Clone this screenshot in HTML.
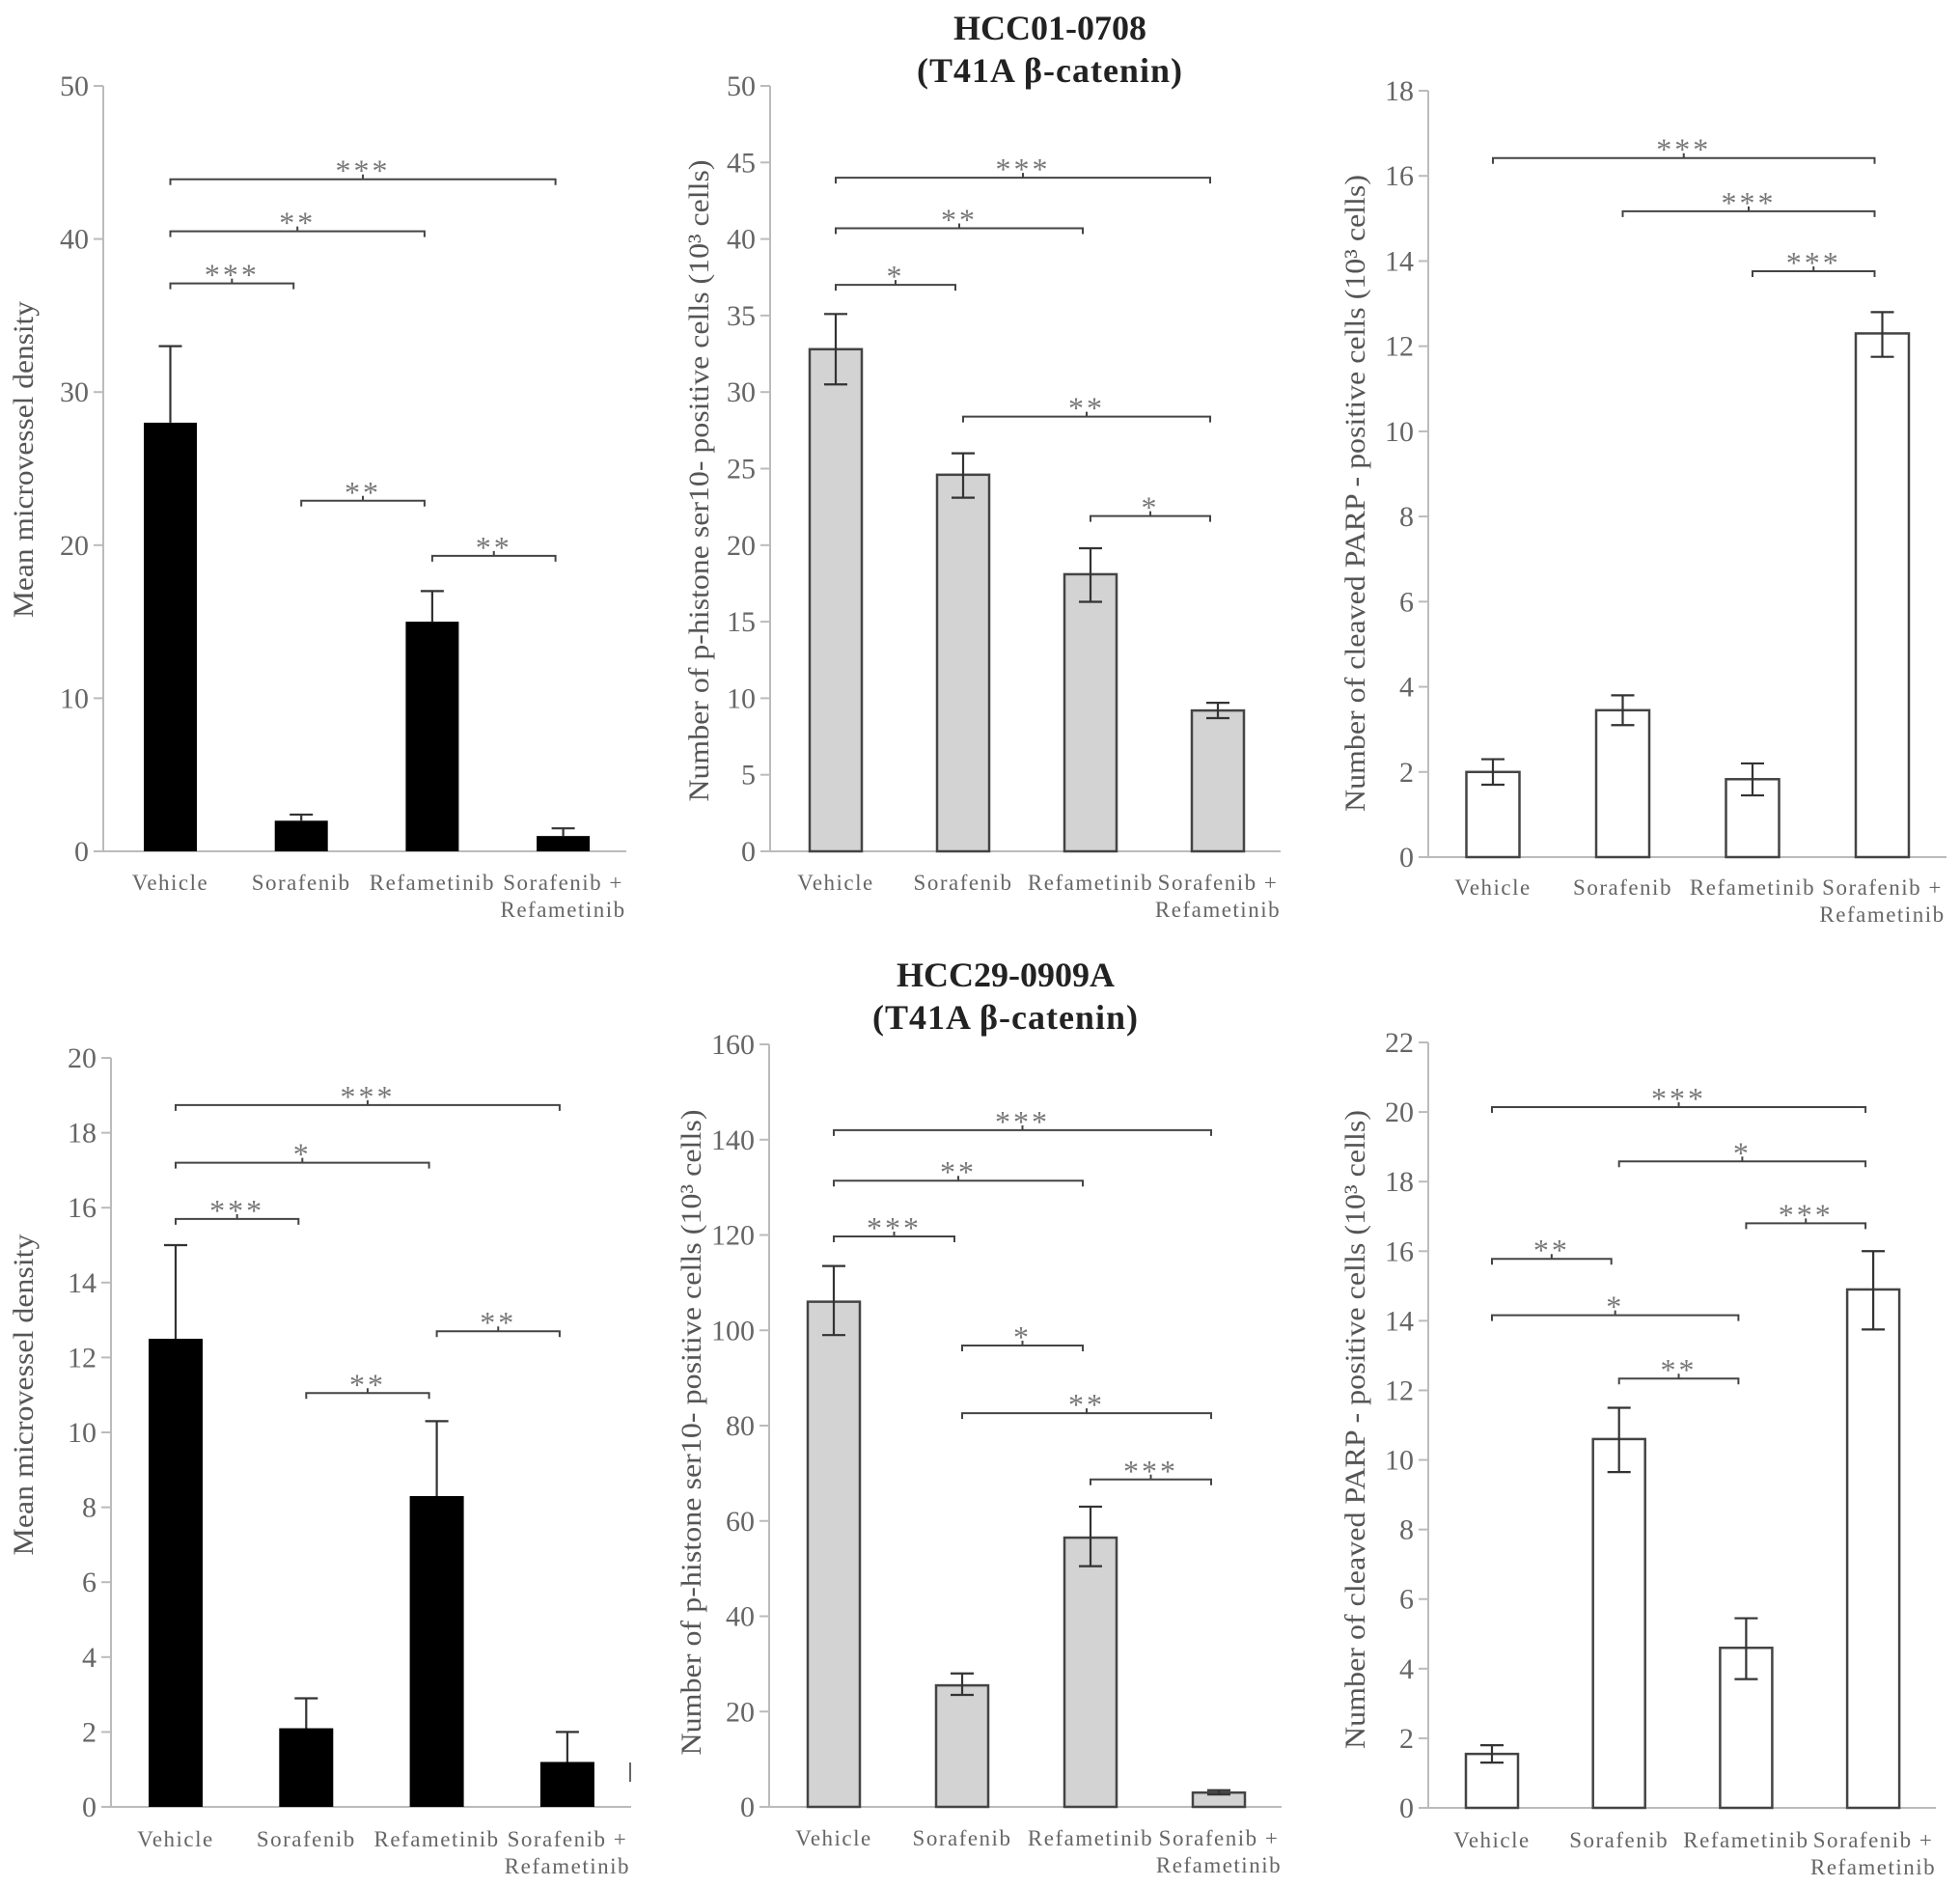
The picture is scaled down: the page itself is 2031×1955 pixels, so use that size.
<!DOCTYPE html>
<html><head><meta charset="utf-8"><style>
html,body{margin:0;padding:0;background:#fff;}
svg{display:block;}
text{font-family:"Liberation Serif",serif;}
</style></head><body>
<svg id="fig" width="2031" height="1955" viewBox="0 0 2031 1955" xmlns="http://www.w3.org/2000/svg">
<text x="1088" y="41" text-anchor="middle" font-size="36" font-weight="bold" fill="#222">HCC01-0708</text>
<text x="1088" y="85" text-anchor="middle" font-size="36" font-weight="bold" fill="#222" letter-spacing="1">(T41A β-catenin)</text>
<text x="1042" y="1022" text-anchor="middle" font-size="36" font-weight="bold" fill="#222">HCC29-0909A</text>
<text x="1042" y="1066" text-anchor="middle" font-size="36" font-weight="bold" fill="#222" letter-spacing="1">(T41A β-catenin)</text>
<rect x="652" y="1826" width="2" height="20" fill="#666"/>
</svg>
<script>
const categories = ["Vehicle","Sorafenib","Refametinib","Sorafenib +|Refametinib"];
// Chart 1: top-left mean microvessel density
const c1Values = [28, 2, 15, 1];
const c1ErrHi = [33, 2.4, 17, 1.5];
const c1ErrLo = [28, 2, 15, 1];
const c1Brackets = [[0,3,43.9,"***"],[0,2,40.5,"**"],[0,1,37.1,"***"],[1,2,22.9,"**"],[2,3,19.3,"**"]];
const c1Ticks = [0,10,20,30,40,50];
// Chart 2: top-middle p-histone
const c2Values = [32.8, 24.6, 18.1, 9.2];
const c2ErrHi = [35.1, 26, 19.8, 9.7];
const c2ErrLo = [30.5, 23.1, 16.3, 8.7];
const c2Brackets = [[0,3,44,"***"],[0,2,40.7,"**"],[0,1,37,"*"],[1,3,28.4,"**"],[2,3,21.9,"*"]];
const c2Ticks = [0,5,10,15,20,25,30,35,40,45,50];
// Chart 3: top-right cleaved PARP
const c3Values = [2.0, 3.45, 1.83, 12.3];
const c3ErrHi = [2.3, 3.8, 2.2, 12.8];
const c3ErrLo = [1.7, 3.1, 1.45, 11.75];
const c3Brackets = [[0,3,16.42,"***"],[1,3,15.17,"***"],[2,3,13.76,"***"]];
const c3Ticks = [0,2,4,6,8,10,12,14,16,18];
// Chart 4: bottom-left microvessel density
const c4Values = [12.5, 2.1, 8.3, 1.2];
const c4ErrHi = [15, 2.9, 10.3, 2.0];
const c4ErrLo = [12.5, 2.1, 8.3, 1.2];
const c4Brackets = [[0,3,18.74,"***"],[0,2,17.2,"*"],[0,1,15.7,"***"],[1,2,11.05,"**"],[2,3,12.7,"**"]];
const c4Ticks = [0,2,4,6,8,10,12,14,16,18,20];
// Chart 5: bottom-middle p-histone
const c5Values = [106, 25.5, 56.5, 3];
const c5ErrHi = [113.5, 28, 63, 3.5];
const c5ErrLo = [99, 23.5, 50.5, 2.6];
const c5Brackets = [[0,3,142,"***"],[0,2,131.4,"**"],[0,1,119.7,"***"],[1,2,96.8,"*"],[1,3,82.6,"**"],[2,3,68.7,"***"]];
const c5Ticks = [0,20,40,60,80,100,120,140,160];
// Chart 6: bottom-right cleaved PARP
const c6Values = [1.55, 10.6, 4.6, 14.9];
const c6ErrHi = [1.8, 11.5, 5.45, 16];
const c6ErrLo = [1.3, 9.65, 3.7, 13.75];
const c6Brackets = [[0,3,20.14,"***"],[1,3,18.58,"*"],[2,3,16.8,"***"],[0,1,15.78,"**"],[0,2,14.16,"*"],[1,2,12.34,"**"]];
const c6Ticks = [0,2,4,6,8,10,12,14,16,18,20,22];

const NS = "http://www.w3.org/2000/svg";
const svg = document.getElementById('fig');
function mk(tag, attrs, parent){ const e=document.createElementNS(NS,tag); for(const k in attrs) e.setAttribute(k,attrs[k]); (parent||svg).appendChild(e); return e; }

const layouts = [
 {id:"c1", vals:c1Values, hi:c1ErrHi, lo:c1ErrLo, br:c1Brackets, ticks:c1Ticks, ymax:50, ax:107, axEnd:649, y0:882, yTop:89, c0:176.5, step:135.7, bw:55, fill:"#000", stroke:"none", up:true, ylab:"Mean microvessel density", ylx:24, yly:476, yll:328, labY:922},
 {id:"c2", vals:c2Values, hi:c2ErrHi, lo:c2ErrLo, br:c2Brackets, ticks:c2Ticks, ymax:50, ax:798, axEnd:1327, y0:882, yTop:89, c0:866, step:132, bw:54, fill:"#d3d3d3", stroke:"#444", up:false, ylab:"Number of p-histone ser10- positive cells (10³ cells)", ylx:724, yly:498, yll:665, labY:922},
 {id:"c3", vals:c3Values, hi:c3ErrHi, lo:c3ErrLo, br:c3Brackets, ticks:c3Ticks, ymax:18, ax:1480, axEnd:2017, y0:888, yTop:94, c0:1547, step:134.5, bw:55, fill:"#fff", stroke:"#444", up:false, ylab:"Number of cleaved PARP - positive cells (10³ cells)", ylx:1404, yly:511, yll:660, labY:927},
 {id:"c4", vals:c4Values, hi:c4ErrHi, lo:c4ErrLo, br:c4Brackets, ticks:c4Ticks, ymax:20, ax:115, axEnd:654, y0:1872, yTop:1096, c0:182, step:135.3, bw:56, fill:"#000", stroke:"none", up:true, ylab:"Mean microvessel density", ylx:24, yly:1445, yll:333, labY:1913},
 {id:"c5", vals:c5Values, hi:c5ErrHi, lo:c5ErrLo, br:c5Brackets, ticks:c5Ticks, ymax:160, ax:797, axEnd:1328, y0:1872, yTop:1082, c0:864, step:133, bw:54, fill:"#d3d3d3", stroke:"#444", up:false, ylab:"Number of p-histone ser10- positive cells (10³ cells)", ylx:716, yly:1484, yll:669, labY:1912},
 {id:"c6", vals:c6Values, hi:c6ErrHi, lo:c6ErrLo, br:c6Brackets, ticks:c6Ticks, ymax:22, ax:1480, axEnd:2006, y0:1873, yTop:1080, c0:1546, step:131.7, bw:54, fill:"#fff", stroke:"#444", up:false, ylab:"Number of cleaved PARP - positive cells (10³ cells)", ylx:1404, yly:1481, yll:662, labY:1914}
];

layouts.forEach(L=>{
  const g = mk('g',{});
  
  
  const ys = v => L.y0 - (v/L.ymax)*(L.y0-L.yTop);
  const xs = i => L.c0 + i*L.step;
  const ya = mk('line',{x1:L.ax,y1:L.yTop,x2:L.ax,y2:L.y0,stroke:"#bbb","stroke-width":2},g);
  
  
  const xa = mk('line',{x1:L.ax,y1:L.y0,x2:L.axEnd,y2:L.y0,stroke:"#bbb","stroke-width":2},g);
  
  
  L.ticks.forEach(t=>{
    const y=ys(t);
    mk('line',{x1:L.ax-10,y1:y,x2:L.ax,y2:y,stroke:"#bbb","stroke-width":2},g);
    const tx = mk('text',{x:L.ax-15,y:y+10,"text-anchor":"end","font-size":30,fill:"#666"},g);
    
    
    tx.textContent = t;
  });
  const yl = mk('text',{x:0,y:0,"text-anchor":"middle","font-size":30,fill:"#555",textLength:L.yll,lengthAdjust:"spacingAndGlyphs",transform:`translate(${L.ylx+10},${L.yly}) rotate(-90)`},g);
  
  
  yl.textContent = L.ylab;
  L.vals.forEach((v,i)=>{
    const cx=xs(i), top=ys(v);
    const r = mk('rect',{x:cx-L.bw/2,y:top,width:L.bw,height:L.y0-top,fill:L.fill,stroke:L.stroke,"stroke-width":L.stroke==="none"?0:2.5},g);
    
    
    const yh=ys(L.hi[i]), yo=L.up?top:ys(L.lo[i]);
    const eb = mk('path',{d:`M${cx},${yo}V${yh}M${cx-12},${yh}H${cx+12}`+(L.up?"":`M${cx-12},${yo}H${cx+12}`),stroke:"#333","stroke-width":2.2,fill:"none"},g);
    
    
    const parts = categories[i].split('|');
    parts.forEach((p,k)=>{
      const t = mk('text',{x:cx,y:L.labY+k*28,"text-anchor":"middle","font-size":23,fill:"#666","letter-spacing":1.5},g);
      
      
      t.textContent = p;
    });
  });
  L.br.forEach(b=>{
    const x1=xs(b[0]), x2=xs(b[1])-8, y=ys(b[2]), m=(x1+x2)/2;
    const p = mk('path',{d:`M${x1},${y+6}V${y}H${x2}V${y+6}M${m},${y}V${y-5}`,stroke:"#444","stroke-width":2,fill:"none"},g);
    
    
    const s = mk('text',{x:m,y:y+2,"text-anchor":"middle","font-size":32,fill:"#777","letter-spacing":3},g);
    
    
    s.textContent = b[3];
  });
});
</script>
</body></html>
